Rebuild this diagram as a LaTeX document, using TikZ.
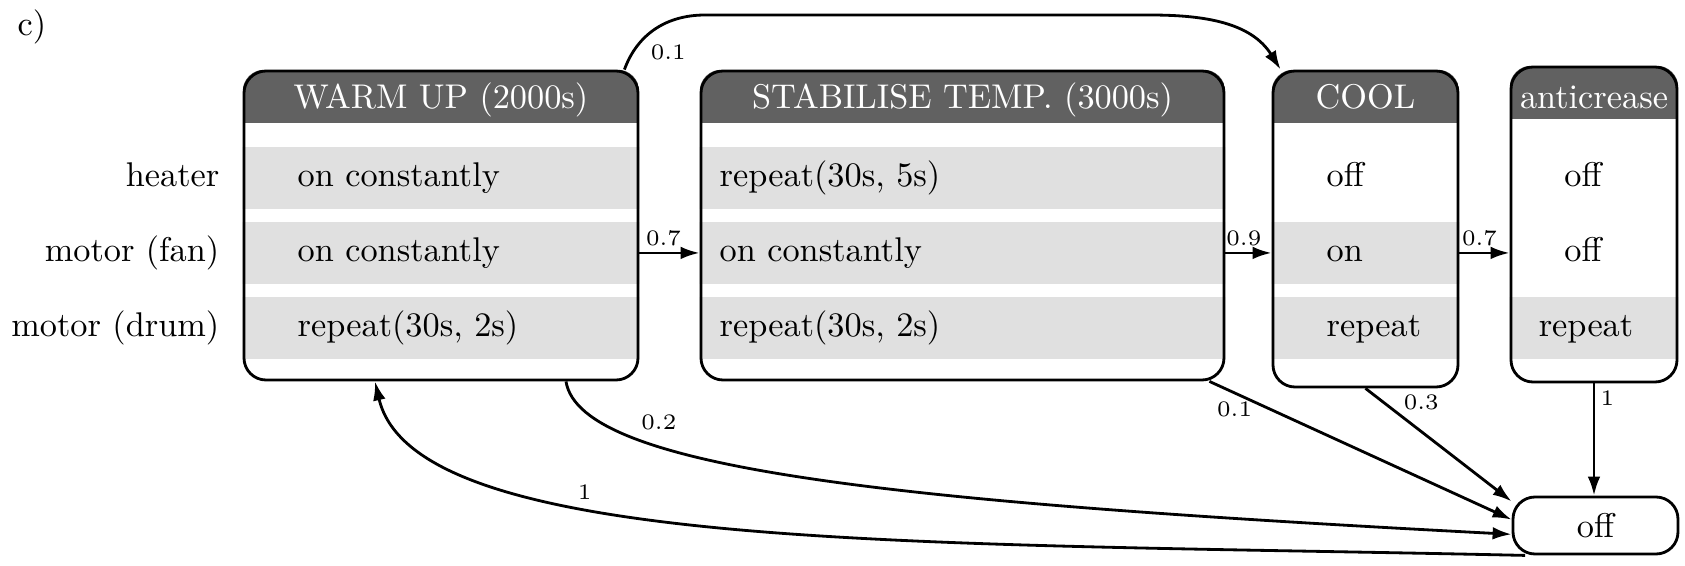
\documentclass[tikz,border=0pt]{standalone}
\usepackage{tikz}
\usetikzlibrary{arrows.meta,backgrounds}
\tikzstyle{stage}=[draw, thick, rounded corners=0.22cm, inner sep=0pt]
\tikzstyle{title}=[anchor=base, text=white, inner sep=0pt]
\tikzstyle{cell}=[anchor=base west, inner sep=0pt]
\tikzstyle{device}=[anchor=base east, inner sep=0pt]
\tikzstyle{prob}=[font=\fontsize{6.3}{7}\selectfont, inner sep=1.5pt]
\tikzstyle{flow}=[->, thick]
\colorlet{headgray}{black!62}
\colorlet{rowgray}{black!12}

\begin{document}
\begin{tikzpicture}[font=\fontsize{9.76}{11.7}\selectfont, >={Latex[length=5.4pt,width=3.6pt]}]
\useasboundingbox (0,0) rectangle (16.85,5.65);

\node[anchor=base west, inner sep=0pt] at (0.17, 5.30) (tag) {c)};

% devices
\node[device] at (2.20, 3.785) (heater) {heater};
\node[device] at (2.20, 3.035) (fan) {motor (fan)};
\node[device] at (2.20, 2.29) (drum) {motor (drum)};

% stages
\node[stage, minimum width=3.94cm, minimum height=3.09cm] at (4.41, 3.395) (warm) {};
\node[stage, minimum width=5.23cm, minimum height=3.09cm] at (9.625, 3.395) (stab) {};
\node[stage, minimum width=1.85cm, minimum height=3.16cm] at (13.655, 3.36) (cool) {};
\node[stage, minimum width=1.66cm, minimum height=3.15cm] at (15.94, 3.405) (anti) {};
\node[stage, minimum width=1.65cm, minimum height=0.57cm] at (15.955, 0.395) (off) {off};

% header and active rows
\begin{scope}[on background layer]
\foreach \s/\ys in {warm/{4.18,3.43,2.68}, stab/{4.18,3.43,2.68}, cool/{3.43,2.68}, anti/{2.68}} {
  \begin{scope}
    \clip[rounded corners=0.22cm] (\s.south west) rectangle (\s.north east);
    \fill[headgray] (\s.north west) rectangle ([yshift=-0.53cm]\s.north east);
    \foreach \y in \ys
      \fill[rowgray] (0,\y) rectangle (17,\y-0.62);
  \end{scope}
}
\end{scope}

\node[title] at (4.41, 4.57) (warmtitle) {WARM UP (2000s)};
\node[title] at (9.625, 4.57) (stabtitle) {STABILISE TEMP. (3000s)};
\node[title] at (13.655, 4.57) (cooltitle) {COOL};
\node[title] at (15.94, 4.57) (antititle) {anticrease};

\node[cell] at (2.97, 3.785) (warm1) {on constantly};
\node[cell] at (2.97, 3.035) (warm2) {on constantly};
\node[cell] at (2.97, 2.29) (warm3) {repeat(30s, 2s)};
\node[cell] at (7.19, 3.785) (stab1) {repeat(30s, 5s)};
\node[cell] at (7.19, 3.035) (stab2) {on constantly};
\node[cell] at (7.19, 2.29) (stab3) {repeat(30s, 2s)};
\node[cell] at (13.26, 3.785) (cool1) {off};
\node[cell] at (13.26, 3.035) (cool2) {on};
\node[cell] at (13.26, 2.29) (cool3) {repeat};
\node[anchor=base, inner sep=0pt] at (15.83, 3.785) (anti1) {off};
\node[anchor=base, inner sep=0pt] at (15.83, 3.035) (anti2) {off};
\node[anchor=base, inner sep=0pt] at (15.86, 2.29) (anti3) {repeat};

% transitions
\coordinate (arcl) at (7.05, 5.50);
\coordinate (arcr) at (11.50, 5.50);
\draw[flow] (warm.east |- fan) -- node[prob, above, pos=0.4] {0.7} (stab.west |- fan);
\draw[flow] (stab.east |- fan) -- node[prob, above, pos=0.4] {0.9} (cool.west |- fan);
\draw[flow] (cool.east |- fan) -- node[prob, above, pos=0.4] {0.7} (anti.west |- fan);
\draw[flow] ([xshift=-0.15cm]warm.north east) to[out=70, in=180] node[prob, pos=0.25, below right, xshift=0.07cm, yshift=0.08cm] {0.1} (arcl) -- (arcr) to[out=0, in=122] ([xshift=0.09cm]cool.north west);
\draw[flow] ([xshift=-0.16cm]stab.south east) -- node[prob, pos=0.1, below, xshift=-0.05cm] {0.1} (off.176);
\draw[flow] (cool.south) -- node[prob, pos=0.12, right=4pt] {0.3} (off.164);
\draw[flow] (anti.south) -- node[prob, pos=0.13, right] {1} (anti.south |- off.north);
\draw[flow] ([xshift=1.25cm]warm.south) to[out=-81, in=177, out looseness=0.24, in looseness=1.63] node[prob, pos=0.17, right=0.35cm] {0.2} (off.186);
\draw[flow] (off.203) to[out=178.7, in=-77, out looseness=1.31, in looseness=0.39] node[prob, pos=0.64, above] {1} ([xshift=-0.66cm]warm.south);
\end{tikzpicture}
\end{document}
